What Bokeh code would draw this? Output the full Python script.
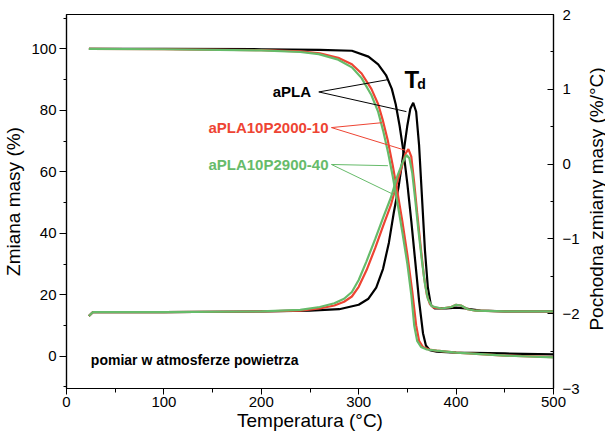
import math
from bokeh.plotting import figure
from bokeh.layouts import row
from bokeh.models import Range1d, LinearAxis, SingleIntervalTicker, FixedTicker, Label
from bokeh.embed import file_html
from bokeh.resources import INLINE

FONT = "Liberation Sans"
BLACK = "#000000"
RED = "#EE4433"
GREEN = "#66BB6A"

# ---- mass curves (left axis, %) ----
T_mass_apla = [23, 100, 200, 260, 293, 310, 320, 328, 334, 338, 342, 346, 350, 354, 358, 362, 366, 369, 373, 380, 400, 450, 500]
m_apla = [100, 100, 99.9, 99.7, 99.4, 97.5, 95, 91.5, 87, 82, 75, 66.5, 56, 44, 31, 18, 7.5, 3.5, 2.0, 1.5, 1.2, 0.9, 0.6]

T_mass_p2000 = [23, 100, 200, 240, 260, 280, 293, 303, 313, 320, 325, 330, 335, 340, 345, 350, 355, 359, 362, 366, 372, 380, 400, 450, 500]
m_p2000 = [100, 99.9, 99.6, 99.2, 98.6, 97, 95, 92, 87, 82, 76.5, 70, 62, 53, 43.5, 33, 21, 10, 5, 3, 2.2, 1.8, 1.2, 0.2, -0.3]

T_mass_p2900 = [23, 100, 200, 240, 259, 279, 293, 303, 313, 320, 325, 330, 335, 340, 345, 350, 354, 357, 360, 364, 370, 380, 400, 450, 500]
m_p2900 = [100, 99.9, 99.5, 99.0, 98.3, 96.5, 94, 90.5, 85, 79.5, 73.5, 66.5, 58.5, 49.5, 40, 30, 20, 10, 5, 3, 2.2, 1.8, 1.2, 0.2, -0.4]

# ---- derivative curves (right axis, %/°C) ----
T_der_apla = [23, 27, 100, 200, 250, 280, 300, 310, 318, 325, 331, 336, 341, 346, 350, 353, 356, 359, 362, 365, 368, 371, 374, 378, 390, 400, 410, 425, 450, 500]
d_apla = [-2.03, -1.98, -1.98, -1.97, -1.96, -1.94, -1.88, -1.8, -1.65, -1.4, -1.05, -0.65, -0.3, 0.15, 0.52, 0.74, 0.82, 0.7, 0.25, -0.45, -1.15, -1.65, -1.88, -1.93, -1.93, -1.92, -1.93, -1.96, -1.97, -1.97]

T_der_p2000 = [23, 27, 100, 200, 240, 260, 275, 285, 293, 300, 308, 317, 325, 333, 340, 345, 348, 351, 354, 357, 360, 364, 367, 370, 373, 377, 385, 395, 400, 405, 412, 420, 450, 500]
d_p2000 = [-2.03, -1.98, -1.98, -1.97, -1.96, -1.93, -1.89, -1.84, -1.77, -1.64, -1.42, -1.12, -0.83, -0.55, -0.22, 0.0, 0.14, 0.2, 0.1, -0.25, -0.65, -1.15, -1.5, -1.75, -1.87, -1.92, -1.93, -1.91, -1.88, -1.89, -1.94, -1.96, -1.97, -1.97]

T_der_p2900 = [23, 27, 100, 200, 240, 260, 275, 285, 293, 300, 308, 317, 325, 333, 340, 345, 349, 352, 355, 358, 361, 365, 368, 371, 375, 385, 395, 400, 405, 412, 420, 450, 500]
d_p2900 = [-2.03, -1.98, -1.98, -1.97, -1.95, -1.91, -1.86, -1.8, -1.71, -1.55, -1.3, -1.0, -0.72, -0.45, -0.15, 0.02, 0.12, 0.08, -0.12, -0.47, -0.85, -1.3, -1.6, -1.8, -1.9, -1.93, -1.91, -1.88, -1.89, -1.94, -1.96, -1.97, -1.97]

series_names = ["aPLA", "aPLA10P2000-10", "aPLA10P2900-40"]

# pointer lines (left-axis units): start -> end
ptr_apla = [(259, 86, 330, 90), (259, 86, 349, 79.6)]
ptr_p2000 = [(272, 74.4, 324, 76), (272, 74.4, 348, 67)]
ptr_p2900 = [(272, 62.4, 330, 62), (272, 62.4, 336, 52.6)]

p = figure(frame_width=487, frame_height=374,
           x_range=Range1d(0, 500), y_range=Range1d(-10.5, 111.2),
           output_backend="svg", toolbar_location=None,
           min_border_left=60, min_border_right=27, min_border_top=14, min_border_bottom=45,
           background_fill_color="white", border_fill_color="white")
p.extra_y_ranges = {"d": Range1d(-3, 2)}
p.xgrid.visible = False
p.ygrid.visible = False
p.outline_line_color = "black"
p.outline_line_width = 1.2

def style_axis(ax, tin, tout, mtin, mtout):
    ax.axis_line_color = "black"
    ax.axis_line_width = 1.2
    ax.major_tick_line_color = "black"
    ax.minor_tick_line_color = "black"
    ax.major_tick_in = tin
    ax.major_tick_out = tout
    ax.minor_tick_in = mtin
    ax.minor_tick_out = mtout
    ax.major_label_text_font = FONT
    ax.major_label_text_font_size = "15px"
    ax.major_label_text_color = "black"
    ax.axis_label_text_font = FONT
    ax.axis_label_text_font_size = "19px"
    ax.axis_label_text_font_style = "normal"
    ax.axis_label_text_color = "black"

xa = p.xaxis[0]
xa.ticker = SingleIntervalTicker(interval=100, num_minor_ticks=2)
xa.axis_label = "Temperatura (°C)"
style_axis(xa, 0, 6, 0, 4)
xa.major_label_standoff = 2
xa.axis_label_standoff = 0

ya = p.yaxis[0]
ya.ticker = SingleIntervalTicker(interval=20, num_minor_ticks=2)
ya.axis_label = "Zmiana masy (%)"
style_axis(ya, 0, 7, 0, 3)
ya.major_label_standoff = 3
ya.axis_label_standoff = 4

ra = LinearAxis(y_range_name="d", ticker=SingleIntervalTicker(interval=1, num_minor_ticks=2))
style_axis(ra, 6, 0, 3, 0)
ra.major_label_standoff = 9
p.add_layout(ra, "right")
right_label = "Pochodna zmiany masy (%/°C)"

LW = 2.2
p.line(T_der_apla, d_apla, y_range_name="d", line_color=BLACK, line_width=LW)
p.line(T_mass_apla, m_apla, line_color=BLACK, line_width=LW)
p.line(T_der_p2000, d_p2000, y_range_name="d", line_color=RED, line_width=LW)
p.line(T_mass_p2000, m_p2000, line_color=RED, line_width=LW)
p.line(T_der_p2900, d_p2900, y_range_name="d", line_color=GREEN, line_width=LW)
p.line(T_mass_p2900, m_p2900, line_color=GREEN, line_width=LW)

for ptrs, col in ((ptr_apla, BLACK), (ptr_p2000, RED), (ptr_p2900, GREEN)):
    p.segment(x0=[a[0] for a in ptrs], y0=[a[1] for a in ptrs],
              x1=[a[2] for a in ptrs], y1=[a[3] for a in ptrs],
              line_color=col, line_width=1)

def add_label(x, y, text, color, size, align="left", baseline="middle", style="bold"):
    p.add_layout(Label(x=x, y=y, text=text, text_font=FONT, text_font_size=size,
                       text_font_style=style, text_color=color,
                       text_align=align, text_baseline=baseline))

add_label(251, 86, series_names[0], BLACK, "15px", align="right")
add_label(269, 74.4, series_names[1], RED, "15px", align="right")
add_label(269, 62.4, series_names[2], GREEN, "15px", align="right")
add_label(347, 90, "T", BLACK, "24px", baseline="alphabetic")
add_label(360, 88.5, "d", BLACK, "14px", baseline="alphabetic")
add_label(25, -1.1, "pomiar w atmosferze powietrza", BLACK, "14px")

# narrow companion panel carrying the right-hand axis title (reads bottom-to-top)
p2 = figure(frame_width=1, frame_height=369, x_range=Range1d(0, 1), y_range=Range1d(0, 1),
            output_backend="svg", toolbar_location=None,
            min_border_left=0, min_border_right=0, min_border_top=2, min_border_bottom=55,
            background_fill_color="white", border_fill_color="white")
p2.outline_line_color = None
p2.xgrid.visible = False
p2.ygrid.visible = False
p2.xaxis.visible = False
ax2 = p2.yaxis[0]
ax2.ticker = FixedTicker(ticks=[])
ax2.axis_line_color = None
ax2.major_tick_line_color = None
ax2.minor_tick_line_color = None
ax2.major_tick_out = 0
ax2.major_tick_in = 0
ax2.minor_tick_out = 0
ax2.major_label_standoff = 0
ax2.axis_label = right_label
ax2.axis_label_standoff = 0
ax2.axis_label_text_font = FONT
ax2.axis_label_text_font_size = "19px"
ax2.axis_label_text_font_style = "normal"
ax2.axis_label_text_color = "black"
p2.line([0, 1], [0, 0], line_alpha=0)

layout = row(p, p2, spacing=0)
open("out.html", "w").write(file_html(layout, INLINE))
